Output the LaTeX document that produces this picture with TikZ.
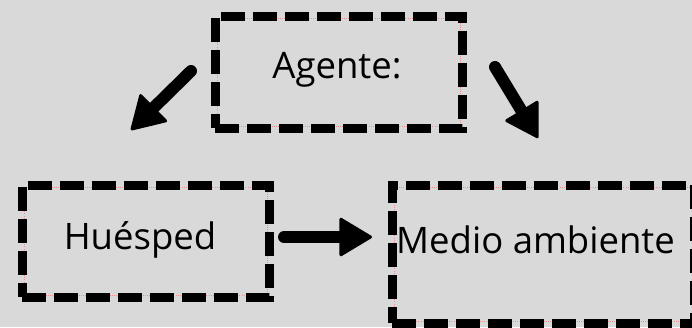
\documentclass[tikz,border=0pt]{standalone}
\usepackage{fontspec}
\setmainfont{Open Sans}
\usetikzlibrary{arrows.meta}
\pgfdeclarelayer{background}
\pgfsetlayers{background,main}
\definecolor{bggray}{HTML}{D9D9D9}
\definecolor{guide}{HTML}{F08C8C}
\tikzset{
  dashbox/.style={draw=black, line width=9pt, dash pattern=on 24pt off 8pt,
    outer sep=0pt, inner sep=0pt},
  guideline/.style={draw=guide, line width=0.7pt, dash pattern=on 1pt off 1.2pt},
  lbl/.style={font=\fontsize{36.5}{44}\selectfont, inner sep=0pt},
  fatarrow/.style={line width=12pt, line cap=round,
    -{Triangle[length=34pt, width=40pt, round, line width=3pt]}}
}
\begin{document}
\begin{tikzpicture}[x=1pt, y=-1pt]
  \useasboundingbox (0,0) rectangle (692,327);

  % boxes
  \node[dashbox, minimum width=247pt, minimum height=112pt] (agente) at (338.5,72) {};
  \node[lbl] (agenteTxt) at (337,70) {Agente:};

  \node[dashbox, minimum width=247pt, minimum height=112pt] (huesped) at (145.5,241) {};
  \node[lbl] (huespedTxt) at (140,240) {Huésped};

  \node[dashbox, minimum width=302pt, minimum height=138pt] (medio) at (543,254) {};
  \node[lbl, anchor=base west] (medioTxt) at (396,253) {Medio ambiente};

  % backdrop and thin guide lines just inside the box outlines
  \begin{pgfonlayer}{background}
    \fill[bggray] (0,0) rectangle (692,327);
    \foreach \b in {agente,huesped,medio}
      \draw[guideline] ([shift={(2,2)}]\b.north west) rectangle ([shift={(-2,-2)}]\b.south east);
  \end{pgfonlayer}

  % arrow ends
  \coordinate (l0) at (191,71);
  \coordinate (l1) at (131,130);
  \coordinate (r0) at (495,67);
  \coordinate (r1) at (538,138);
  \coordinate (h0) at (284,237);
  \coordinate (h1) at (372,237);

  \draw[fatarrow] (l0) -- (l1);
  \draw[fatarrow] (r0) -- (r1);
  \draw[fatarrow] (h0) -- (h1);
\end{tikzpicture}
\end{document}
